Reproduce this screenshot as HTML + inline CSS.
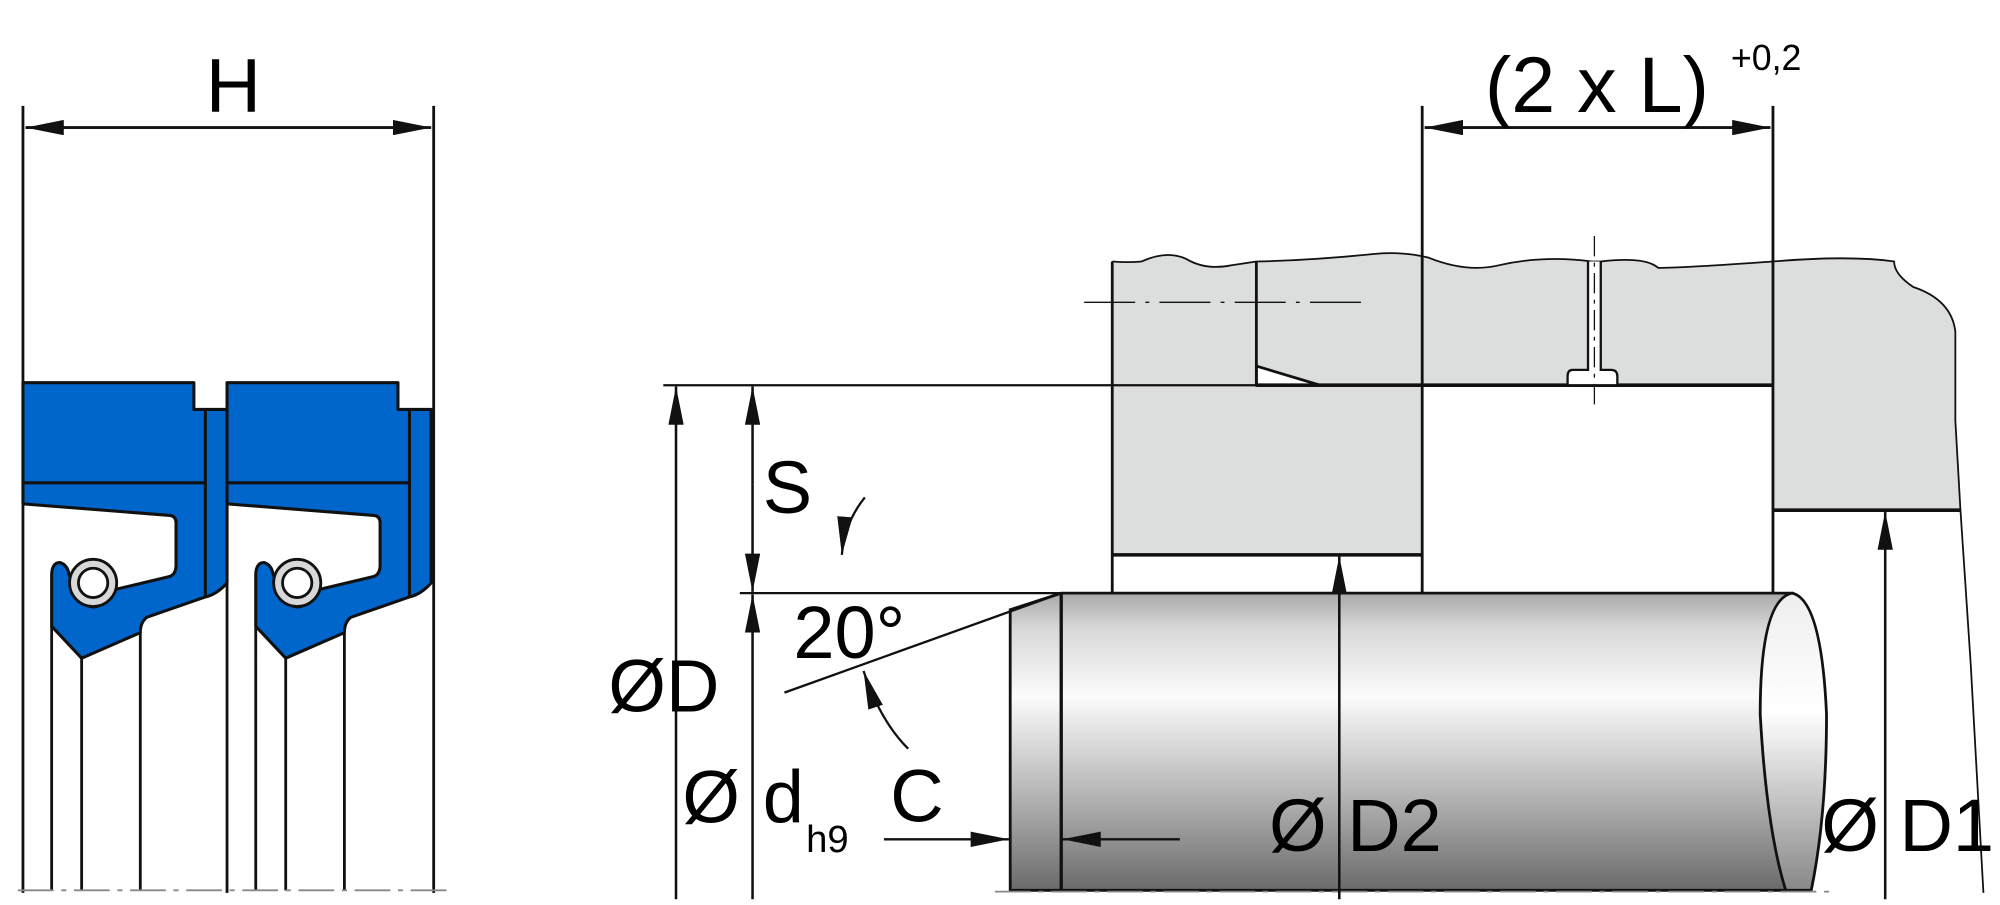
<!DOCTYPE html>
<html><head><style>html,body{margin:0;padding:0;background:#fff}svg{display:block}</style></head>
<body>
<svg width="2000" height="905" viewBox="0 0 1568 709.5" xmlns="http://www.w3.org/2000/svg" font-family="Liberation Sans, Arial, sans-serif">
<defs>
<linearGradient id="rod" x1="0" y1="0" x2="0" y2="1">
<stop offset="0" stop-color="#a8a8a8"/><stop offset="0.12" stop-color="#d8d8d8"/><stop offset="0.35" stop-color="#fbfbfb"/><stop offset="0.7" stop-color="#b0b0b0"/><stop offset="1" stop-color="#6a6a6a"/>
</linearGradient>
<linearGradient id="end" x1="0" y1="0" x2="0" y2="1">
<stop offset="0" stop-color="#eee"/><stop offset="0.4" stop-color="#fff"/><stop offset="1" stop-color="#888"/>
</linearGradient>
<g id="seal">
<path d="M18,300 H152 V321 H178 V457 Q170,466 161,468 L115,484 Q110,488 110,496 L64,516 L40.5,491 V450 Q41,441 47,441 Q53,443 54,450 L56,455 Q60,474 73,476 Q86,474 91,462 L133,452 Q138,450 138,443 V410 Q138,404 132,404 L18,395 Z" fill="#0066cc" stroke="#111" stroke-width="2.4" stroke-linejoin="round"/>
<line x1="161" y1="321" x2="161" y2="468" stroke="#111" stroke-width="2.4"/>
<line x1="18" y1="378.5" x2="161" y2="378.5" stroke="#111" stroke-width="2.4"/>
<circle cx="73" cy="457" r="18.5" fill="#d8d8d8" stroke="#111" stroke-width="2.2"/>
<circle cx="73" cy="457" r="11.5" fill="#fff" stroke="#111" stroke-width="2.2"/>
<path d="M40.5,491 V698 M64,516 V698 M110,496 V698" stroke="#111" stroke-width="2.2" fill="none"/>
</g>
<marker id="a" viewBox="0 0 30 12" refX="30" refY="6" markerWidth="30" markerHeight="12" markerUnits="userSpaceOnUse" orient="auto"><path d="M0,0 L30,6 L0,12 Z" fill="#111"/></marker>
</defs>

<use href="#seal"/>
<use href="#seal" x="160"/>
<path d="M18,83 V700 M340,83 V700 M178,300 V700" stroke="#111" stroke-width="2.2" fill="none"/>
<line x1="20" y1="100" x2="338" y2="100" stroke="#111" stroke-width="2" marker-end="url(#a)"/>
<line x1="338" y1="100" x2="20" y2="100" stroke="#111" stroke-width="2" marker-end="url(#a)"/>
<text x="183" y="88" font-size="60" text-anchor="middle">H</text>
<line x1="14" y1="698" x2="352" y2="698" stroke="#888" stroke-width="1.4" stroke-dasharray="28,6,4,6"/>

<path d="M872,205 Q885,206 895,205 Q915,196 930,203 Q945,212 965,208 L985,205 Q1030,204 1078,199 Q1100,197 1120,202 Q1150,214 1175,208 Q1210,200 1248,205 L1255,205 Q1290,201 1300,210 Q1320,210 1390,205 Q1450,200 1485,205 Q1485,215 1500,225 Q1530,235 1533,260 L1533,330 L1537,400 H1390 V302 H1115 V435 H872 Z" fill="#dcdedd" stroke="none"/>
<path d="M872,205 Q885,206 895,205 Q915,196 930,203 Q945,212 965,208 L985,205 Q1030,204 1078,199 Q1100,197 1120,202 Q1150,214 1175,208 Q1210,200 1248,205 L1255,205 Q1290,201 1300,210 Q1320,210 1390,205 Q1450,200 1485,205 Q1485,215 1500,225 Q1530,235 1533,260 L1533,330 L1537,400 L1545,520 L1555,700" fill="none" stroke="#111" stroke-width="1.4"/>
<path d="M985,287 L1035,302 H985 Z" fill="#fff" stroke="#111" stroke-width="2.2"/>
<path d="M872,205 V465 M985,205 V302 M1115,83 V465 M1390,83 V465" stroke="#111" stroke-width="2.2" fill="none"/>
<line x1="872" y1="435" x2="1115" y2="435" stroke="#111" stroke-width="2.8"/>
<line x1="1390" y1="400" x2="1537" y2="400" stroke="#111" stroke-width="2.8"/>
<line x1="520" y1="302" x2="985" y2="302" stroke="#111" stroke-width="1.8"/>
<line x1="985" y1="302" x2="1390" y2="302" stroke="#111" stroke-width="2.8"/>
<path d="M1245,205 V290 H1233 Q1229,290 1229,295 V302 H1268 V295 Q1268,290 1263,290 H1255 V205" fill="#fff" stroke="#111" stroke-width="1.8"/>
<line x1="1250" y1="185" x2="1250" y2="320" stroke="#111" stroke-width="1" stroke-dasharray="16,5,3,5"/>
<line x1="850" y1="237" x2="1075" y2="237" stroke="#111" stroke-width="1" stroke-dasharray="40,8,3,8"/>

<path d="M792,478 L832,465 H1405 V698 H792 Z" fill="url(#rod)" stroke="#111" stroke-width="2.2"/>
<path d="M1405,465 Q1380,470 1380,560 Q1385,650 1400,698 L1420,698 Q1432,640 1432,560 Q1428,470 1405,465 Z" fill="url(#end)" stroke="#111" stroke-width="2.2"/>
<line x1="832" y1="465" x2="832" y2="698" stroke="#111" stroke-width="2.6"/>
<line x1="580" y1="465" x2="832" y2="465" stroke="#111" stroke-width="1.8"/>
<line x1="615" y1="543" x2="832" y2="465" stroke="#111" stroke-width="1.8"/>
<line x1="780" y1="699" x2="1440" y2="699" stroke="#888" stroke-width="1.4" stroke-dasharray="28,6,4,6"/>

<line x1="1117" y1="100" x2="1388" y2="100" stroke="#111" stroke-width="2" marker-end="url(#a)"/>
<line x1="1388" y1="100" x2="1117" y2="100" stroke="#111" stroke-width="2" marker-end="url(#a)"/>
<text x="1252" y="88" font-size="62" text-anchor="middle">(2 x L)</text>
<text x="1357" y="55" font-size="28">+0,2</text>

<line x1="530" y1="705" x2="530" y2="303" stroke="#111" stroke-width="2" marker-end="url(#a)"/>
<line x1="590" y1="380" x2="590" y2="303" stroke="#111" stroke-width="2" marker-end="url(#a)"/>
<line x1="590" y1="380" x2="590" y2="464" stroke="#111" stroke-width="2" marker-end="url(#a)"/>
<line x1="590" y1="705" x2="590" y2="466" stroke="#111" stroke-width="2" marker-end="url(#a)"/>
<text x="598" y="402" font-size="58">S</text>
<text x="477" y="558" font-size="58">ØD</text>
<text x="535" y="645" font-size="58">Ø</text>
<text x="598" y="645" font-size="58">d</text>
<text x="632" y="668" font-size="30">h9</text>
<text x="622" y="516" font-size="58">20°</text>
<text x="698" y="644" font-size="58">C</text>
<path d="M678,390 Q662,410 660,435" fill="none" stroke="#111" stroke-width="1.8" marker-end="url(#a)"/>
<path d="M712,587 Q690,565 677,526" fill="none" stroke="#111" stroke-width="1.8" marker-end="url(#a)"/>
<line x1="693" y1="658" x2="791" y2="658" stroke="#111" stroke-width="1.8" marker-end="url(#a)"/>
<line x1="925" y1="658" x2="833" y2="658" stroke="#111" stroke-width="1.8" marker-end="url(#a)"/>
<line x1="1050" y1="705" x2="1050" y2="436" stroke="#111" stroke-width="2" marker-end="url(#a)"/>
<text x="995" y="667" font-size="58">Ø D2</text>
<line x1="1478" y1="705" x2="1478" y2="401" stroke="#111" stroke-width="2" marker-end="url(#a)"/>
<text x="1428" y="667" font-size="58">Ø D1</text>
</svg>
</body></html>
